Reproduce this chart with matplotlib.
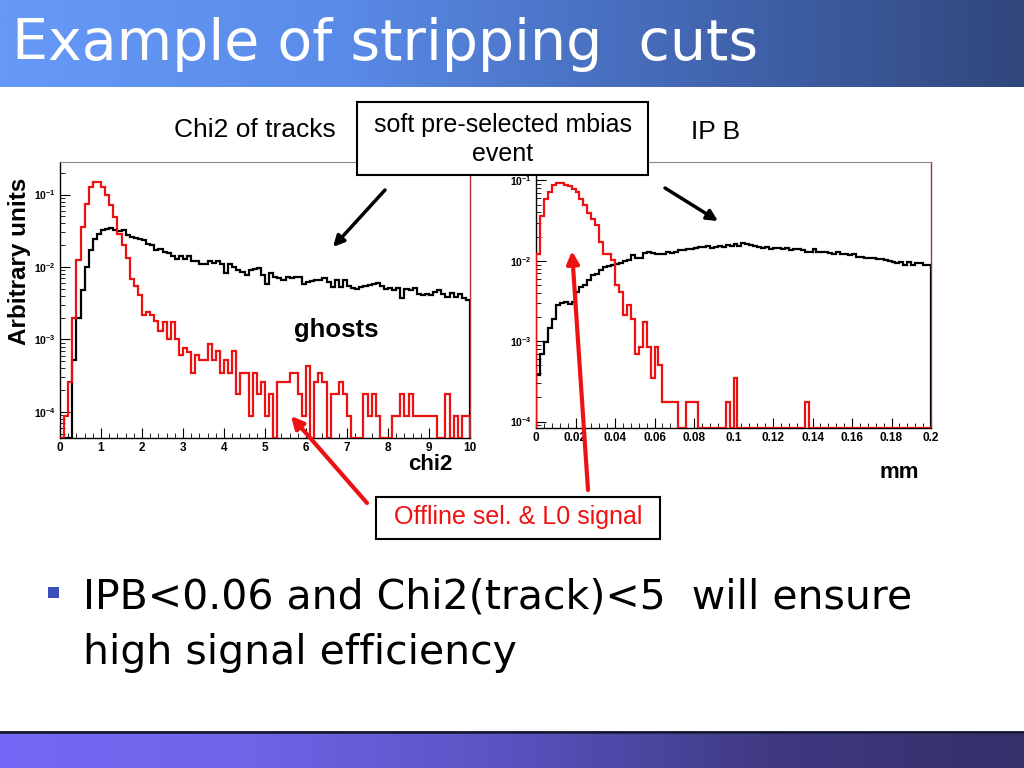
import numpy as np
import matplotlib
matplotlib.use('Agg')
import matplotlib.pyplot as plt
from matplotlib.ticker import LogLocator, NullFormatter, MultipleLocator
from matplotlib.colors import LinearSegmentedColormap
from matplotlib.patches import Rectangle

# ---------------- data ----------------
chi2_edges = np.linspace(0, 10, 101)
ipb_edges = np.linspace(0, 0.2, 101)

chi2_mbias = [0, 0, 0, 5.2e-4, 2.0e-3, 4.8e-3, 1.0e-2, 1.7e-2, 2.4e-2, 2.9e-2,
              3.2e-2, 3.3e-2, 3.5e-2, 3.2e-2, 3.1e-2, 3.2e-2, 2.75e-2, 2.6e-2, 2.55e-2, 2.4e-2,
              2.35e-2, 2.1e-2, 2.0e-2, 1.7e-2, 1.8e-2, 1.6e-2, 1.55e-2, 1.4e-2, 1.3e-2, 1.4e-2,
              1.3e-2, 1.4e-2, 1.2e-2, 1.2e-2, 1.1e-2, 1.1e-2, 1.2e-2, 1.15e-2, 1.2e-2, 1.1e-2,
              8.2e-3, 1.1e-2, 1.0e-2, 9.0e-3, 8.6e-3, 7.7e-3, 9.0e-3, 9.5e-3, 9.8e-3, 7.7e-3,
              5.9e-3, 8.2e-3, 7.4e-3, 7.0e-3, 6.6e-3, 7.4e-3, 7.0e-3, 7.4e-3, 7.2e-3, 5.9e-3,
              6.2e-3, 6.4e-3, 6.7e-3, 6.6e-3, 7.0e-3, 6.2e-3, 5.3e-3, 6.6e-3, 5.3e-3, 6.6e-3,
              5.4e-3, 5.2e-3, 5.0e-3, 5.3e-3, 5.4e-3, 5.6e-3, 5.9e-3, 6.1e-3, 5.4e-3, 5.0e-3,
              5.2e-3, 4.8e-3, 5.2e-3, 3.7e-3, 5.0e-3, 4.8e-3, 5.2e-3, 4.2e-3, 4.1e-3, 4.3e-3,
              4.1e-3, 4.5e-3, 4.8e-3, 4.3e-3, 3.9e-3, 4.4e-3, 3.9e-3, 4.3e-3, 3.7e-3, 3.5e-3]

chi2_signal = [0, 8.7e-5, 2.6e-4, 2.0e-3, 1.27e-2, 3.6e-2, 7.5e-2, 0.127, 0.149, 0.149,
               0.127, 0.098, 0.071, 0.049, 0.029, 0.020, 0.0132, 6.9e-3, 5.4e-3, 4.1e-3,
               2.2e-3, 2.4e-3, 2.2e-3, 1.78e-3, 1.3e-3, 1.75e-3, 1.0e-3, 1.75e-3, 1.0e-3, 6.2e-4,
               7.6e-4, 6.7e-4, 3.5e-4, 6.1e-4, 5.2e-4, 5.2e-4, 8.7e-4, 5.2e-4, 7.0e-4, 3.5e-4,
               5.2e-4, 3.5e-4, 7.0e-4, 1.74e-4, 3.5e-4, 3.5e-4, 8.7e-5, 3.5e-4, 1.74e-4, 2.6e-4,
               8.7e-5, 1.74e-4, 0, 2.6e-4, 2.6e-4, 2.6e-4, 3.5e-4, 3.5e-4, 1.74e-4, 8.7e-5,
               4.35e-4, 0, 2.6e-4, 3.5e-4, 2.6e-4, 0, 1.74e-4, 1.74e-4, 2.6e-4, 1.74e-4,
               8.7e-5, 0, 0, 0, 1.74e-4, 8.7e-5, 1.74e-4, 8.7e-5, 0, 0,
               0, 8.7e-5, 8.7e-5, 1.74e-4, 8.7e-5, 1.74e-4, 8.7e-5, 8.7e-5, 8.7e-5, 8.7e-5,
               8.7e-5, 8.7e-5, 0, 0, 1.74e-4, 0, 8.7e-5, 0, 8.7e-5, 8.7e-5]

ipb_mbias = [3.8e-4, 7.0e-4, 9.8e-4, 1.45e-3, 1.9e-3, 2.8e-3, 3.0e-3, 3.05e-3, 2.9e-3, 3.1e-3,
             4.1e-3, 4.7e-3, 5.0e-3, 5.7e-3, 6.6e-3, 6.9e-3, 7.6e-3, 8.3e-3, 8.6e-3, 8.8e-3,
             9.1e-3, 9.5e-3, 1.0e-2, 1.02e-2, 1.17e-2, 1.07e-2, 1.1e-2, 1.26e-2, 1.28e-2, 1.25e-2,
             1.22e-2, 1.2e-2, 1.22e-2, 1.28e-2, 1.25e-2, 1.3e-2, 1.35e-2, 1.35e-2, 1.4e-2, 1.4e-2,
             1.45e-2, 1.5e-2, 1.48e-2, 1.55e-2, 1.45e-2, 1.5e-2, 1.55e-2, 1.5e-2, 1.58e-2, 1.55e-2,
             1.6e-2, 1.55e-2, 1.65e-2, 1.6e-2, 1.58e-2, 1.55e-2, 1.5e-2, 1.45e-2, 1.5e-2, 1.4e-2,
             1.45e-2, 1.45e-2, 1.42e-2, 1.45e-2, 1.35e-2, 1.42e-2, 1.4e-2, 1.35e-2, 1.28e-2, 1.3e-2,
             1.4e-2, 1.28e-2, 1.3e-2, 1.28e-2, 1.25e-2, 1.22e-2, 1.3e-2, 1.2e-2, 1.2e-2, 1.18e-2,
             1.2e-2, 1.12e-2, 1.12e-2, 1.1e-2, 1.1e-2, 1.08e-2, 1.05e-2, 1.04e-2, 1.02e-2, 1.0e-2,
             9.8e-3, 9.5e-3, 9.6e-3, 8.8e-3, 9.6e-3, 8.8e-3, 9.3e-3, 9.4e-3, 9.0e-3, 8.8e-3]

ipb_signal = [1.23e-2, 3.6e-2, 5.9e-2, 7.1e-2, 8.7e-2, 9.4e-2, 9.2e-2, 8.9e-2, 8.5e-2, 7.9e-2,
              7.1e-2, 5.9e-2, 4.9e-2, 3.9e-2, 3.3e-2, 2.8e-2, 1.7e-2, 1.23e-2, 1.23e-2, 1.02e-2,
              5.0e-3, 4.1e-3, 2.1e-3, 2.8e-3, 1.9e-3, 7.0e-4, 8.5e-4, 1.74e-3, 8.5e-4, 3.5e-4,
              8.5e-4, 5.1e-4, 1.74e-4, 1.74e-4, 1.74e-4, 1.74e-4, 0, 0, 1.74e-4, 1.74e-4,
              1.74e-4, 0, 0, 0, 0, 0, 0, 0, 1.74e-4, 0,
              3.5e-4, 0, 0, 0, 0, 0, 0, 0, 0, 0,
              0, 0, 0, 0, 0, 0, 0, 0, 1.74e-4, 0,
              0, 0, 0, 0, 0, 0, 0, 0, 0, 0,
              0, 0, 0, 0, 0, 0, 0, 0, 0, 0,
              0, 0, 0, 0, 0, 0, 0, 0, 0, 0]

chi2_ticks = [0, 1, 2, 3, 4, 5, 6, 7, 8, 9, 10]
chi2_ticklabels = ['0', '1', '2', '3', '4', '5', '6', '7', '8', '9', '10']
ipb_ticks = [0, 0.02, 0.04, 0.06, 0.08, 0.1, 0.12, 0.14, 0.16, 0.18, 0.2]
ipb_ticklabels = ['0', '0.02', '0.04', '0.06', '0.08', '0.1', '0.12', '0.14', '0.16', '0.18', '0.2']
y_ticks = [1e-4, 1e-3, 1e-2, 1e-1]
y_ticklabels = [r'$\mathbf{10^{-4}}$', r'$\mathbf{10^{-3}}$', r'$\mathbf{10^{-2}}$', r'$\mathbf{10^{-1}}$']

title = 'Example of stripping  cuts'
bullet_lines = ['IPB<0.06 and Chi2(track)<5  will ensure', 'high signal efficiency']

# ---------------- figure ----------------
plt.rcParams['font.family'] = ['Liberation Sans', 'DejaVu Sans']
plt.rcParams['mathtext.fontset'] = 'custom'
plt.rcParams['mathtext.bf'] = 'Liberation Sans:bold'
plt.rcParams['mathtext.rm'] = 'Liberation Sans'

fig = plt.figure(figsize=(10.24, 7.68), dpi=100)
fig.patch.set_facecolor('white')

bg = fig.add_axes([0, 0, 1, 1], zorder=0)
grad = np.linspace(0, 1, 512).reshape(1, -1)
cmap_t = LinearSegmentedColormap.from_list('t', ['#6699f8', '#5a8be8', '#4468b4', '#30477c'])
bg.imshow(grad, extent=[0, 1024, 87, 0], aspect='auto', cmap=cmap_t, interpolation='bilinear')
cmap_b = LinearSegmentedColormap.from_list('b', ['#7767f6', '#6f63e6', '#5a52c0', '#3f3a82', '#34306a'])
bg.imshow(grad, extent=[0, 1024, 768, 734], aspect='auto', cmap=cmap_b, interpolation='bilinear')
bg.plot([0, 1024], [732, 732], color='#111133', lw=2)
bg.set_xlim(0, 1024)
bg.set_ylim(768, 0)
bg.axis('off')

bg.text(12, 44, title, color='white', fontsize=41, va='center', ha='left',
        family=['DejaVu Sans'])


def style_axes(ax, ylo, yhi, xticks, xlabels, xminor):
    ax.set_yscale('log')
    ax.set_ylim(ylo, yhi)
    ax.set_xlim(xticks[0], xticks[-1])
    ax.set_xticks(xticks, xlabels, fontweight='bold', fontsize=8.5)
    ax.xaxis.set_minor_locator(MultipleLocator(xminor))
    ax.set_yticks(y_ticks, y_ticklabels, fontsize=7.5)
    ax.yaxis.set_minor_locator(LogLocator(base=10, subs=np.arange(2, 10)))
    ax.yaxis.set_minor_formatter(NullFormatter())
    ax.tick_params(which='both', direction='in', top=False, right=False)
    ax.tick_params(which='major', length=7, width=0.8, pad=3)
    ax.tick_params(which='minor', length=3.5, width=0.6)
    for s in ['left', 'bottom']:
        ax.spines[s].set_color('black')
        ax.spines[s].set_linewidth(1.0)
    ax.spines['top'].set_color('#888888')
    ax.spines['top'].set_linewidth(0.8)
    ax.spines['right'].set_color('#b03030')
    ax.spines['right'].set_linewidth(1.0)


# left plot
ax1 = fig.add_axes([60 / 1024, 1 - 438 / 768, 410 / 1024, 276 / 768], zorder=2)
lo1, hi1 = 10 ** -4.36, 10 ** -0.55
style_axes(ax1, lo1, hi1, chi2_ticks, chi2_ticklabels, 0.2)
ax1.stairs(np.maximum(np.array(chi2_mbias), lo1), chi2_edges, baseline=lo1,
           color='black', lw=1.6, zorder=3)
ax1.stairs(np.maximum(np.array(chi2_signal), lo1), chi2_edges, baseline=lo1,
           color='#ee1111', lw=1.6, zorder=4)

# right plot
ax2 = fig.add_axes([536 / 1024, 1 - 428 / 768, 395 / 1024, 266 / 768], zorder=2)
lo2, hi2 = 10 ** -4.08, 10 ** -0.77
style_axes(ax2, lo2, hi2, ipb_ticks, ipb_ticklabels, 0.004)
ax2.stairs(np.maximum(np.array(ipb_mbias), lo2), ipb_edges, baseline=lo2,
           color='black', lw=1.6, zorder=3)
ax2.stairs(np.maximum(np.array(ipb_signal), lo2), ipb_edges, baseline=lo2,
           color='#ee1111', lw=1.6, zorder=4)

# overlay for annotations
ov = fig.add_axes([0, 0, 1, 1], zorder=5)
ov.set_xlim(0, 1024)
ov.set_ylim(768, 0)
ov.patch.set_alpha(0)
ov.axis('off')

ov.text(255, 130, 'Chi2 of tracks', fontsize=19, ha='center', va='center')
ov.text(716, 132, 'IP B', fontsize=19, ha='center', va='center')

ov.add_patch(Rectangle((357, 102), 291, 73, facecolor='white', edgecolor='black', lw=1.5))
ov.text(503, 125, 'soft pre-selected mbias', fontsize=18, ha='center', va='center')
ov.text(503, 154, 'event', fontsize=18, ha='center', va='center')

ov.add_patch(Rectangle((376, 497), 284, 42, facecolor='white', edgecolor='black', lw=1.5))
ov.text(518, 517, 'Offline sel. & L0 signal', fontsize=18, ha='center', va='center',
        color='#ee1111')

ov.text(20, 261, 'Arbitrary units', fontsize=17.5, fontweight='bold', rotation=90,
        ha='center', va='center')
ov.text(336, 330, 'ghosts', fontsize=18.5, fontweight='bold', ha='center', va='center')
ov.text(430, 464, 'chi2', fontsize=16, fontweight='bold', ha='center', va='center')
ov.text(899, 472, 'mm', fontsize=16, fontweight='bold', ha='center', va='center')

ap_k = dict(arrowstyle='-|>', color='black', lw=2.5, mutation_scale=16, shrinkA=0, shrinkB=0)
ov.annotate('', xy=(333, 247), xytext=(385, 190), arrowprops=ap_k)
ov.annotate('', xy=(718, 221), xytext=(665, 188), arrowprops=ap_k)
ap_r = dict(arrowstyle='-|>', color='#ee1111', lw=3, mutation_scale=18, shrinkA=0, shrinkB=0)
ov.annotate('', xy=(291, 416), xytext=(367, 503), arrowprops=ap_r)
ov.annotate('', xy=(572, 251), xytext=(588, 490), arrowprops=ap_r)

ov.add_patch(Rectangle((48, 587), 11, 11, facecolor='#3b4fb8', edgecolor='none'))
ov.text(83, 598, bullet_lines[0], fontsize=29.5, ha='left', va='center', family=['DejaVu Sans'])
ov.text(83, 653, bullet_lines[1], fontsize=29.5, ha='left', va='center', family=['DejaVu Sans'])

fig.savefig('out.png', dpi=100)
